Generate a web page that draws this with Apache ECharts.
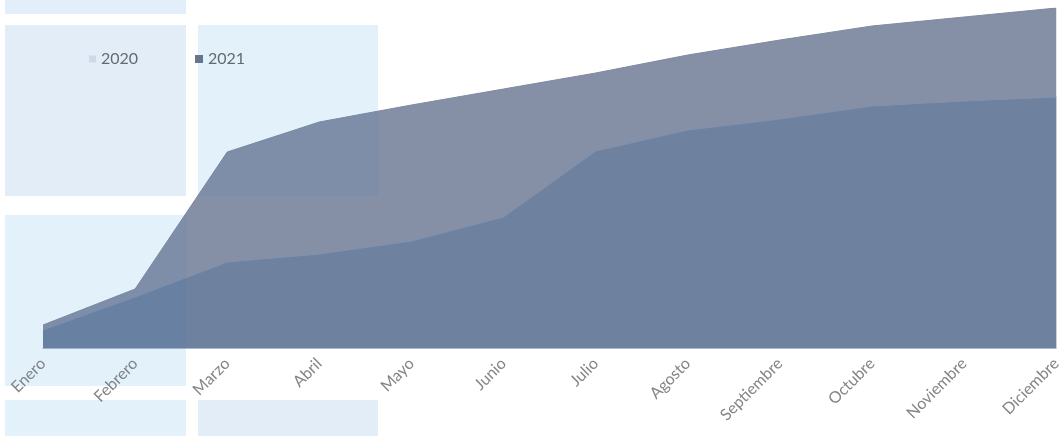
<!DOCTYPE html>
<html>
<head>
<meta charset="utf-8">
<script src="https://cdn.jsdelivr.net/npm/echarts@6/dist/echarts.min.js"></script>
<style>
  html, body { margin: 0; padding: 0; background: #ffffff; }
  #chart { width: 1064px; height: 436px; }
</style>
</head>
<body>
<div id="chart"></div>
<script>
// Months on the category axis
const months = ['Enero', 'Febrero', 'Marzo', 'Abril', 'Mayo', 'Junio', 'Julio',
  'Agosto', 'Septiembre', 'Octubre', 'Noviembre', 'Diciembre'];

// Accumulated values per month
const values2020 = [23, 59, 196, 226, 243, 259, 275, 293, 308, 322, 331, 340];
const values2021 = [18, 51, 86, 94, 107, 131, 197, 218, 229, 242, 247, 251];

const chart = echarts.init(document.getElementById('chart'), null, { renderer: 'canvas' });

const labelFont = 'Lato, "Open Sans", sans-serif';

// Light blue dashboard panels (drawn behind the chart)
const panels = [
  { x: 5, y: 0, w: 181, h: 14, c: '#eff5fb' },
  { x: 5, y: 25, w: 181, h: 171, c: '#eff4fa' },
  { x: 198, y: 25, w: 180, h: 171, c: '#f0f8fd' },
  { x: 5, y: 215, w: 181, h: 171, c: '#f0f8fd' },
  { x: 5, y: 400, w: 181, h: 36, c: '#f0f8fd' },
  { x: 198, y: 400, w: 180, h: 36, c: '#eff4fa' }
];

const panelRects = [];
panels.forEach(p => {
  // opaque panel under everything
  panelRects.push({
    type: 'rect', z: -10, silent: true,
    shape: { x: p.x, y: p.y, width: p.w, height: p.h },
    style: { fill: p.c }
  });
  // faint tint of the panel over the plotted areas
  panelRects.push({
    type: 'rect', z: 100, silent: true,
    shape: { x: p.x, y: p.y, width: p.w, height: p.h },
    style: { fill: 'rgba(0,120,210,0.05)' }
  });
});

chart.setOption({
  animation: false,
  backgroundColor: '#ffffff',
  legend: [
    {
      left: 84, top: 46,
      itemWidth: 7, itemHeight: 7,
      itemGap: 4,
      icon: 'rect',
      textStyle: { color: '#6a6a6a', fontSize: 16, fontFamily: labelFont },
      data: [{ name: '2020', itemStyle: { color: '#d7dfe9' } }]
    },
    {
      left: 190, top: 46,
      itemWidth: 8, itemHeight: 8,
      icon: 'rect',
      textStyle: { color: '#6a6a6a', fontSize: 16, fontFamily: labelFont },
      data: [{ name: '2021', itemStyle: { color: '#6b7587' } }]
    }
  ],
  grid: { left: 43, right: 2, top: 8, bottom: 88, containLabel: false },
  xAxis: {
    type: 'category',
    data: months,
    boundaryGap: false,
    axisTick: { show: false },
    axisLine: { show: true, lineStyle: { color: '#a8b6cb', width: 1 } },
    axisLabel: {
      rotate: 45,
      margin: 13,
      color: '#858585',
      fontSize: 16,
      fontFamily: labelFont,
      interval: 0
    },
    splitLine: { show: false }
  },
  yAxis: {
    type: 'value',
    min: 0,
    max: 340,
    show: false,
    splitLine: { show: false }
  },
  series: [
    {
      name: '2020',
      type: 'line',
      data: values2020,
      symbol: 'none',
      z: 2,
      lineStyle: { color: '#7f8aa0', width: 1 },
      itemStyle: { color: '#8590a6' },
      areaStyle: { color: '#8590a6', opacity: 1 }
    },
    {
      name: '2021',
      type: 'line',
      data: values2021,
      symbol: 'none',
      z: 3,
      lineStyle: { color: '#8192ae', width: 1 },
      itemStyle: { color: '#6e82a0' },
      areaStyle: { color: '#6e82a0', opacity: 1 }
    }
  ],
  graphic: panelRects
});
</script>
</body>
</html>
